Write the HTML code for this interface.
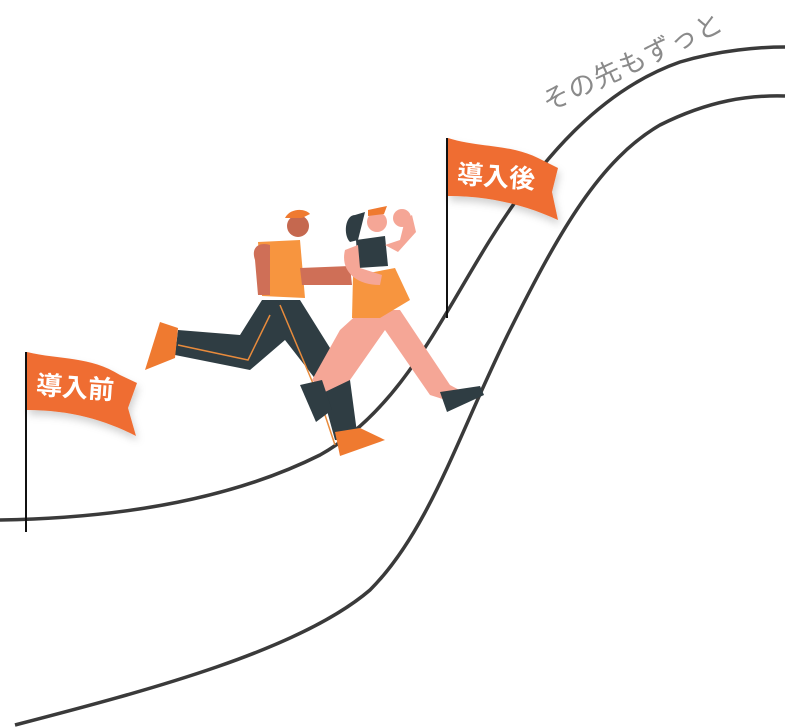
<!DOCTYPE html>
<html><head><meta charset="utf-8"><style>
html,body{margin:0;padding:0;background:#fff;width:789px;height:728px;overflow:hidden}
svg{display:block}
</style></head><body>
<svg width="789" height="728" viewBox="0 0 789 728" xmlns="http://www.w3.org/2000/svg">
<defs><filter id="sh" x="-20%" y="-20%" width="150%" height="160%"><feDropShadow dx="2" dy="5" stdDeviation="4" flood-color="#000" flood-opacity="0.18"/></filter></defs>
<!-- curves -->
<path d="M0 520 C120 518 230 500 320 455 C400 410 440 320 490 240 C540 160 600 90 680 62 C720 50 760 47 785 47" fill="none" stroke="#3a3a3a" stroke-width="3.5"/>
<path d="M15 725 C150 690 300 650 370 590 C430 530 460 430 510 330 C560 230 600 160 660 125 C710 100 750 95 785 96" fill="none" stroke="#3a3a3a" stroke-width="3.5"/>
<text x="0" y="0" transform="translate(548,112) rotate(-25)" font-family="'Liberation Sans','Noto Sans CJK JP',sans-serif" font-size="27" fill="#8a8a8a" letter-spacing="1">その先もずっと</text>
<!-- flag 1 -->
<line x1="26" y1="352" x2="26" y2="532" stroke="#111" stroke-width="2"/>
<path d="M27 352 C60 360 90 356 120 375 L137 383 L128 408 L136 436 C105 420 70 410 27 410 Z" fill="#ef6d32" filter="url(#sh)"/>
<text x="36" y="397" font-family="'Liberation Sans','Noto Sans CJK JP',sans-serif" font-size="26" font-weight="bold" fill="#fff" transform="rotate(4 80 390)">導入前</text>
<!-- flag 2 -->
<line x1="447" y1="138" x2="447" y2="318" stroke="#111" stroke-width="2"/>
<path d="M448 138 C480 148 510 144 538 158 L558 168 L552 192 L558 220 C525 205 490 196 448 196 Z" fill="#ef6d32" filter="url(#sh)"/>
<text x="457" y="186" font-family="'Liberation Sans','Noto Sans CJK JP',sans-serif" font-size="26" font-weight="bold" fill="#fff" transform="rotate(4 500 180)">導入後</text>
<!-- man -->
<g>
<path d="M262 300 L300 300 L350 380 L358 440 L335 440 L320 385 L285 340 L250 370 L175 355 L178 330 L240 335 Z" fill="#2f3d43"/>
<path d="M280 305 L320 400 L335 445" stroke="#e88b3c" stroke-width="1.5" fill="none"/>
<path d="M270 315 L248 360 L178 345" stroke="#e88b3c" stroke-width="1.5" fill="none"/>
<path d="M160 322 L178 328 L175 358 L145 370 Z" fill="#ef7a30"/>
<path d="M335 432 L360 428 L385 440 L340 456 Z" fill="#ef7a30"/>
<path d="M258 242 L300 240 L305 298 L262 296 Z" fill="#f7953f"/>
<path d="M255 260 C250 245 262 242 270 245 L270 295 L258 295 Z" fill="#cf6f57"/>
<path d="M300 268 L350 266 L352 285 L302 285 Z" fill="#cf6f57"/>
<circle cx="298" cy="226" r="11" fill="#c5684f"/>
<path d="M285 218 C290 208 305 208 310 214 L302 218 Z" fill="#ef7a30"/>
</g>
<!-- woman -->
<g>
<path d="M362 310 L400 310 L450 385 L463 392 L452 402 L430 395 L385 330 L350 380 L325 392 L312 380 L340 330 Z" fill="#f5a696"/>
<path d="M300 385 L322 380 L332 410 L316 422 Z" fill="#2f3d43"/>
<path d="M440 392 L480 386 L484 395 L447 412 Z" fill="#2f3d43"/>
<path d="M353 276 L395 268 L410 300 L380 318 L352 318 Z" fill="#f7953f"/>
<path d="M356 240 L385 236 L388 266 L358 268 Z" fill="#2f3d43"/>
<path d="M345 250 C340 270 355 285 380 285 L382 275 L360 268 L358 245 Z" fill="#f5a696"/>
<path d="M385 245 L400 240 L405 220 L412 215 L416 232 L398 252 Z" fill="#f5a696"/>
<circle cx="402" cy="218" r="9" fill="#f5a696"/>
<circle cx="377" cy="222" r="10" fill="#f5a696"/>
<path d="M355 215 C345 215 343 235 350 242 L358 240 L365 212 Z" fill="#2f3d43"/>
<path d="M368 210 L387 206 L384 214 L368 216 Z" fill="#ef7a30"/>
</g>
</svg>
</body></html>
